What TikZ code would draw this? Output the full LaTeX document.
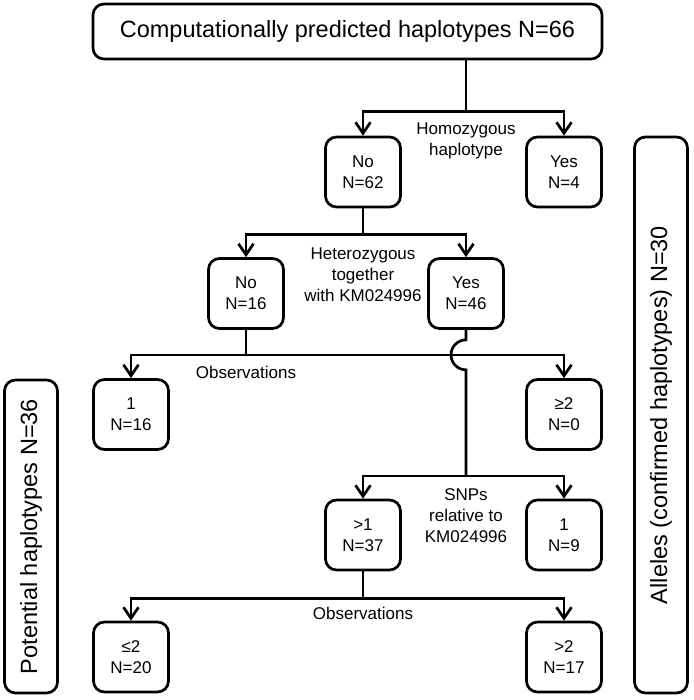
\documentclass[tikz,border=0pt]{standalone}
\usepackage{fontspec}
\setmainfont{Liberation Sans}
\usepackage{tikz}
\usetikzlibrary{
  	arrows.meta,
  	positioning,
  	calc
  }
\tikzstyle{leaf}=[draw,line width=2.7pt,rounded corners=11pt,minimum width=75pt,minimum height=70pt,align=center,font=\fontsize{17}{21}\selectfont,inner sep=0pt]
\tikzstyle{lbl}=[align=center,font=\fontsize{17}{21}\selectfont,inner sep=0pt]
\tikzstyle{tall}=[draw,line width=2.7pt,rounded corners=11pt,minimum height=53pt,rotate=90,font=\fontsize{23.5}{28}\selectfont,inner sep=0pt]
\tikzstyle{arr}=[-{Straight Barb[length=11pt,width=15pt]}]

\begin{document}
\begin{tikzpicture}[x=1pt,y=-1pt,line width=2.7pt]
  \useasboundingbox (0,0) rectangle (693,700);
  \node [draw, line width=2.7pt, rounded corners=11pt, minimum width=509pt, minimum height=55pt,
         font=\fontsize{23.5}{28}\selectfont] (top) at (347.5,31.5)
        {Computationally predicted haplotypes N=66};
%
  \node [leaf] (no62) at (363,172) {No\\N=62};
  \node [leaf] (yes4) at (564,172) {Yes\\N=4};
  \node [lbl] (homo) at (466,141) {Homozygous\\haplotype};
%
  \node [leaf] (no16) at (246,293.5) {No\\N=16};
  \node [leaf] (yes46) at (466,293.5) {Yes\\N=46};
  \node [lbl] (hetero) at (363,275) {Heterozygous\\together\\with KM024996};
%
  \node [leaf] (obs1) at (131,414.5) {1\\N=16};
  \node [leaf] (ge2) at (564,414.5) {≥2\\N=0};
  \node [lbl] (obsA) at (246,372) {Observations};
%
  \node [leaf] (gt1) at (363,535) {>1\\N=37};
  \node [leaf] (one9) at (564,535) {1\\N=9};
  \node [lbl] (snps) at (466,516) {SNPs\\relative to\\KM024996};
%
  \node [leaf] (le2) at (131,657) {≤2\\N=20};
  \node [leaf] (gt2) at (564,657) {>2\\N=17};
  \node [lbl] (obsB) at (363,613) {Observations};
%
  \node [tall, minimum width=313pt] (potential) at (31,536.5) {Potential haplotypes N=36};
  \node [tall, minimum width=556pt] (alleles) at (661,415) {Alleles (confirmed haplotypes) N=30};
%
  \draw (top.south -| yes46) -- ++(0,51) coordinate (j1);
  \draw [arr] (j1) -| (no62);
  \draw [arr] (j1) -| (yes4);
  \draw (no62.south) -- ++(0,26) coordinate (j2);
  \draw [arr] (j2) -| (no16);
  \draw [arr] (j2) -| (yes46);
  \draw (no16.south) -- ++(0,25) coordinate (j3);
  \draw [arr] (j3) -| (obs1);
  \draw [arr] (j3) -| (ge2);
  \draw (yes46.south) -- ++(0,10)
     arc [start angle=270, end angle=90, radius=15]
     -- ($(yes46.south)+(0,146)$) coordinate (j4);
  \draw [arr] (j4) -| (gt1);
  \draw [arr] (j4) -| (one9);
  \draw (gt1.south) -- ++(0,27) coordinate (j5);
  \draw [arr] (j5) -| (le2);
  \draw [arr] (j5) -| (gt2);
\end{tikzpicture}
\end{document}
